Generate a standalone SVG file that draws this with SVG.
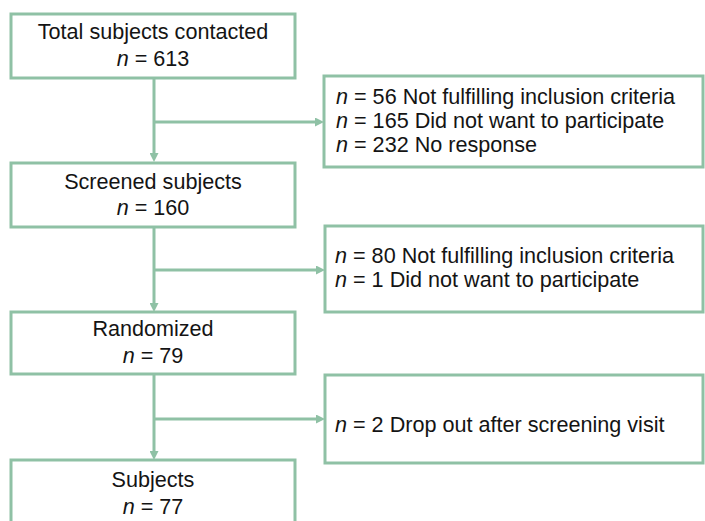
<svg xmlns="http://www.w3.org/2000/svg" width="705" height="521" viewBox="0 0 705 521">
  <style>
    .box { fill: #ffffff; stroke: #8fc1a5; stroke-width: 3; }
    .conn { stroke: #8fc1a5; stroke-width: 3; fill: none; }
    text { font-family: "Liberation Sans", Arial, sans-serif; font-size: 21.6px; fill: #141414; }
    .c { text-anchor: middle; }
    .i { font-style: italic; }
  </style>
  <defs>
    <marker id="arr" viewBox="0 0 9 9" refX="3" refY="4.5" markerWidth="9" markerHeight="9" markerUnits="userSpaceOnUse" orient="auto">
      <path d="M0,0 L9,4.5 L0,9 z" fill="#8fc1a5"/>
    </marker>
  </defs>
  <rect width="705" height="521" fill="#ffffff"/>

  <g id="connectors">
    <line class="conn" x1="154" y1="78" x2="154" y2="156" marker-end="url(#arr)"/>
    <line class="conn" x1="154" y1="122" x2="318" y2="122" marker-end="url(#arr)"/>
    <line class="conn" x1="154" y1="227" x2="154" y2="306" marker-end="url(#arr)"/>
    <line class="conn" x1="154" y1="270" x2="319" y2="270" marker-end="url(#arr)"/>
    <line class="conn" x1="154" y1="374" x2="154" y2="454" marker-end="url(#arr)"/>
    <line class="conn" x1="154" y1="419" x2="319" y2="419" marker-end="url(#arr)"/>
  </g>

  <g id="node-total">
    <rect class="box" x="11" y="14" width="284" height="64"/>
    <text class="c" x="153" y="39">Total subjects contacted</text>
    <text class="c" x="153" y="66"><tspan class="i">n</tspan> = 613</text>
  </g>

  <g id="node-excl1">
    <rect class="box" x="324" y="76" width="379" height="91"/>
    <text x="336" y="104"><tspan class="i">n</tspan> = 56 Not fulfilling inclusion criteria</text>
    <text x="336" y="128"><tspan class="i">n</tspan> = 165 Did not want to participate</text>
    <text x="336" y="152"><tspan class="i">n</tspan> = 232 No response</text>
  </g>

  <g id="node-screened">
    <rect class="box" x="11" y="163" width="284" height="64"/>
    <text class="c" x="153" y="189">Screened subjects</text>
    <text class="c" x="153" y="215"><tspan class="i">n</tspan> = 160</text>
  </g>

  <g id="node-excl2">
    <rect class="box" x="325" y="226" width="378" height="86"/>
    <text x="335" y="263"><tspan class="i">n</tspan> = 80 Not fulfilling inclusion criteria</text>
    <text x="335" y="287"><tspan class="i">n</tspan> = 1 Did not want to participate</text>
  </g>

  <g id="node-randomized">
    <rect class="box" x="11" y="312" width="284" height="62"/>
    <text class="c" x="153" y="336">Randomized</text>
    <text class="c" x="153" y="363"><tspan class="i">n</tspan> = 79</text>
  </g>

  <g id="node-excl3">
    <rect class="box" x="325" y="375" width="378" height="88"/>
    <text x="335" y="432"><tspan class="i">n</tspan> = 2 Drop out after screening visit</text>
  </g>

  <g id="node-subjects">
    <rect class="box" x="11" y="460" width="284" height="70"/>
    <text class="c" x="153" y="487">Subjects</text>
    <text class="c" x="153" y="514"><tspan class="i">n</tspan> = 77</text>
  </g>
</svg>
